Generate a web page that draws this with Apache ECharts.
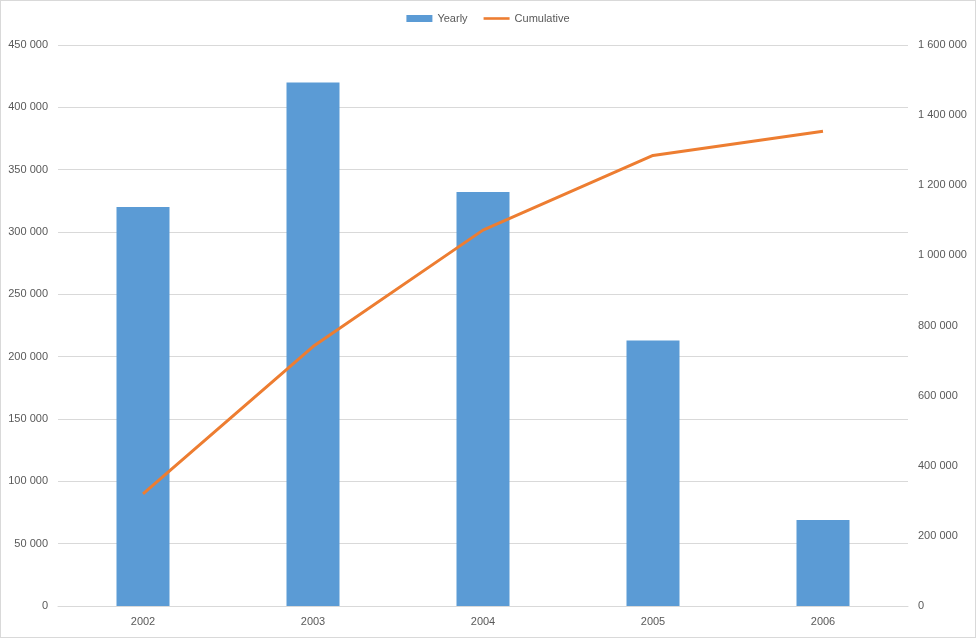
<!DOCTYPE html>
<html><head><meta charset="utf-8">
<script src="https://cdn.jsdelivr.net/npm/echarts@6/dist/echarts.min.js"></script>
<style>html,body{margin:0;padding:0;background:#fff}#c{width:976px;height:638px;box-sizing:border-box;border:1px solid #d9d9d9}</style>
</head><body><div id="c"></div>
<script>
const categories = ['2002','2003','2004','2005','2006'];
const yearly = [320000, 420000, 332000, 213000, 69000];
const cumulative = [320000, 740000, 1072000, 1285000, 1354000];
const fmt = v => String(v).replace(/\B(?=(\d{3})+(?!\d))/g, ' ');
const font = 'Liberation Sans, Arial, sans-serif';
const chart = echarts.init(document.getElementById('c'));
chart.setOption({
  animation:false,
  textStyle:{fontFamily:font},
  legend:{top:7,left:'center',itemGap:16,itemWidth:26,itemHeight:7,
    textStyle:{color:'#595959',fontSize:11,fontFamily:font},
    data:[{name:'Yearly',icon:'rect'},{name:'Cumulative',icon:'path://M0,3 L30,3 L30,6 L0,6 Z'}]},
  grid:{left:57,right:67,top:44,bottom:31,containLabel:false},
  xAxis:{type:'category',data:categories,
    axisLine:{lineStyle:{color:'#d9d9d9'}},axisTick:{show:false},
    axisLabel:{color:'#595959',fontSize:11,margin:10}},
  yAxis:[
    {type:'value',min:0,max:450000,interval:50000,
      axisLabel:{color:'#595959',fontSize:11,formatter:fmt,margin:10},
      splitLine:{lineStyle:{color:'#d9d9d9'}},axisLine:{show:false},axisTick:{show:false}},
    {type:'value',min:0,max:1600000,interval:200000,
      axisLabel:{color:'#595959',fontSize:11,formatter:fmt,margin:10},
      splitLine:{show:false},axisLine:{show:false},axisTick:{show:false}}
  ],
  series:[
    {name:'Yearly',type:'bar',data:yearly,barWidth:53,itemStyle:{color:'#5B9BD5'}},
    {name:'Cumulative',type:'line',yAxisIndex:1,data:cumulative,symbol:'none',
      lineStyle:{color:'#ED7D31',width:3},itemStyle:{color:'#ED7D31'}}
  ]
});
</script></body></html>
